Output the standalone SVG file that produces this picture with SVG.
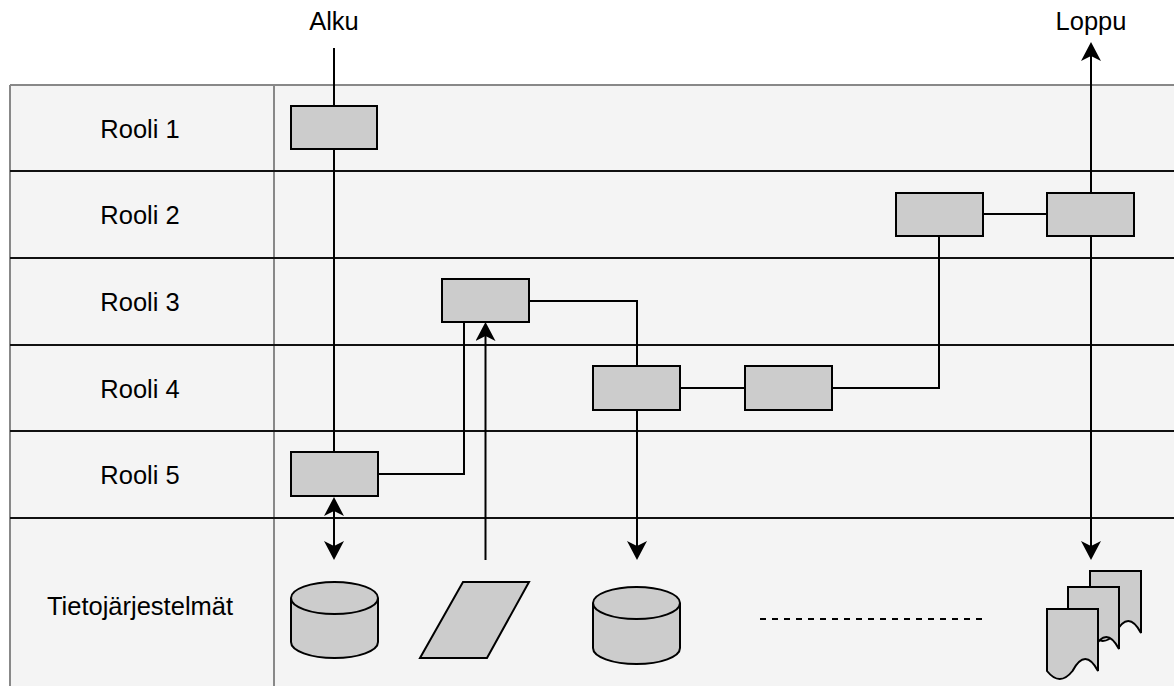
<svg xmlns="http://www.w3.org/2000/svg" width="1174" height="686" viewBox="0 0 1174 686">
  <style>
    .lbl { font-family: "Liberation Sans", Arial, sans-serif; font-size: 25.5px; fill: #000; text-anchor: middle; }
    .box { fill: #cccccc; stroke: #000; stroke-width: 2; }
    .edge { fill: none; stroke: #000; stroke-width: 2; }
    .arr { marker-end: url(#arrowHead); }
    .border { stroke: #888; stroke-width: 2; fill: none; }
    .sep { stroke: #111; stroke-width: 2; }
  </style>
  <defs>
    <marker id="arrowHead" viewBox="0 0 19 20" markerWidth="19" markerHeight="20" markerUnits="userSpaceOnUse" refX="5" refY="10" orient="auto-start-reverse">
      <path d="M0,0 L19,10 L0,20 L5,10 Z" fill="#000"/>
    </marker>
    <path id="docShape" d="M0,0 H51 V62 Q38.25,38 25.5,62 Q12.75,78 0,62 Z"/>
  </defs>

  <rect width="1174" height="686" fill="#ffffff"/>

  <!-- swimlane pool -->
  <g id="pool">
    <rect x="10" y="85" width="1170" height="610" fill="#f4f4f4"/>
    <line class="border" x1="10" y1="85" x2="1174" y2="85"/>
    <line class="border" x1="10" y1="85" x2="10" y2="686"/>
    <line class="border" x1="274" y1="85" x2="274" y2="686"/>
    <line class="sep" x1="10" y1="171" x2="1174" y2="171"/>
    <line class="sep" x1="10" y1="258" x2="1174" y2="258"/>
    <line class="sep" x1="10" y1="345" x2="1174" y2="345"/>
    <line class="sep" x1="10" y1="431" x2="1174" y2="431"/>
    <line class="sep" x1="10" y1="518" x2="1174" y2="518"/>
    <text class="lbl" x="140" y="138">Rooli 1</text>
    <text class="lbl" x="140" y="224">Rooli 2</text>
    <text class="lbl" x="140" y="311">Rooli 3</text>
    <text class="lbl" x="140" y="398">Rooli 4</text>
    <text class="lbl" x="140" y="484">Rooli 5</text>
    <text class="lbl" x="140" y="615">Tietojärjestelmät</text>
  </g>

  <text class="lbl" x="334" y="30">Alku</text>
  <text class="lbl" x="1091" y="30">Loppu</text>

  <!-- connectors -->
  <g id="connectors">
    <path class="edge" d="M334,48 V452"/>
    <path class="edge" d="M378,474 H464 V322"/>
    <path class="edge arr" d="M485.5,560 V336"/>
    <path class="edge" d="M529,301 H637 V366"/>
    <path class="edge" d="M680,388 H745"/>
    <path class="edge" d="M832,388 H939 V236"/>
    <path class="edge" d="M983,214 H1047"/>
    <path class="edge arr" d="M1091,193 V56"/>
    <path class="edge arr" d="M1091,236 V546"/>
    <path class="edge arr" d="M637,410 V546"/>
    <path class="edge arr" d="M334,511 V546" marker-start="url(#arrowHead)"/>
    <path class="edge" d="M760,619 H983" stroke-dasharray="6 6"/>
  </g>

  <!-- process steps -->
  <g id="step-r1"><rect class="box" x="291" y="106" width="86" height="43"/></g>
  <g id="step-r2a"><rect class="box" x="896" y="193" width="87" height="43"/></g>
  <g id="step-r2b"><rect class="box" x="1047" y="193" width="87" height="43"/></g>
  <g id="step-r3"><rect class="box" x="442" y="279" width="87" height="43"/></g>
  <g id="step-r4a"><rect class="box" x="593" y="366" width="87" height="44"/></g>
  <g id="step-r4b"><rect class="box" x="745" y="366" width="87" height="44"/></g>
  <g id="step-r5"><rect class="box" x="291" y="452" width="87" height="44"/></g>

  <!-- information systems -->
  <g id="db1">
    <path class="box" d="M291,598 A43.5,16 0 0 1 378,598 V642 A43.5,16 0 0 1 291,642 Z"/>
    <path class="edge" d="M291,598 A43.5,16 0 0 0 378,598"/>
  </g>
  <g id="input-data">
    <polygon class="box" points="463,582 529,582 487,658 420,658"/>
  </g>
  <g id="db2">
    <path class="box" d="M593,603 A43.5,16 0 0 1 680,603 V648 A43.5,16 0 0 1 593,648 Z"/>
    <path class="edge" d="M593,603 A43.5,16 0 0 0 680,603"/>
  </g>
  <g id="documents">
    <use href="#docShape" class="box" x="1090" y="571"/>
    <use href="#docShape" class="box" x="1068" y="587"/>
    <use href="#docShape" class="box" x="1047" y="609"/>
  </g>
</svg>
